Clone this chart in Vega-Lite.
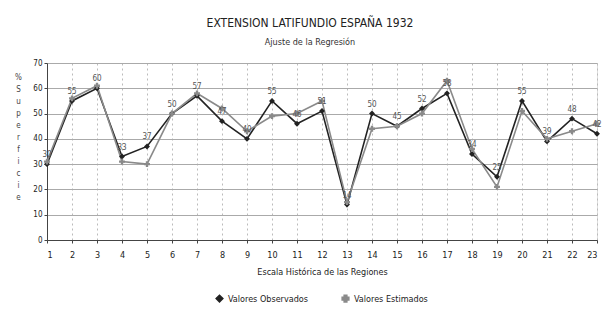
{
  "$schema": "https://vega.github.io/schema/vega-lite/v6.json",
  "width": 550,
  "height": 177,
  "autosize": {"type": "none"},
  "padding": {"left": 47, "top": 63, "right": 9, "bottom": 78},
  "background": "white",
  "config": {
    "legend": {
      "orient": "none",
      "legendX": 168,
      "legendY": 231,
      "direction": "horizontal",
      "labelFont": "Liberation Sans Narrow, DejaVu Sans Condensed, sans-serif",
      "labelFontSize": 9,
      "labelColor": "#222",
      "symbolSize": 45,
      "columnPadding": 30
    }
  },
  "title": {
    "text": "EXTENSION LATIFUNDIO ESPAÑA 1932",
    "subtitle": "Ajuste de la Regresión",
    "font": "Liberation Sans Narrow, DejaVu Sans Condensed, sans-serif",
    "subtitleFont": "Liberation Sans Narrow, DejaVu Sans Condensed, sans-serif",
    "fontSize": 12,
    "fontWeight": "normal",
    "subtitleFontSize": 9,
    "subtitlePadding": 8,
    "color": "#222",
    "subtitleColor": "#333",
    "anchor": "middle",
    "dx": -12,
    "offset": 11
  },
  "data": {
    "values": [
      {"region": 1, "serie": "Valores Observados", "valor": 30},
      {"region": 2, "serie": "Valores Observados", "valor": 55},
      {"region": 3, "serie": "Valores Observados", "valor": 60},
      {"region": 4, "serie": "Valores Observados", "valor": 33},
      {"region": 5, "serie": "Valores Observados", "valor": 37},
      {"region": 6, "serie": "Valores Observados", "valor": 50},
      {"region": 7, "serie": "Valores Observados", "valor": 57},
      {"region": 8, "serie": "Valores Observados", "valor": 47},
      {"region": 9, "serie": "Valores Observados", "valor": 40},
      {"region": 10, "serie": "Valores Observados", "valor": 55},
      {"region": 11, "serie": "Valores Observados", "valor": 46},
      {"region": 12, "serie": "Valores Observados", "valor": 51},
      {"region": 13, "serie": "Valores Observados", "valor": 14},
      {"region": 14, "serie": "Valores Observados", "valor": 50},
      {"region": 15, "serie": "Valores Observados", "valor": 45},
      {"region": 16, "serie": "Valores Observados", "valor": 52},
      {"region": 17, "serie": "Valores Observados", "valor": 58},
      {"region": 18, "serie": "Valores Observados", "valor": 34},
      {"region": 19, "serie": "Valores Observados", "valor": 25},
      {"region": 20, "serie": "Valores Observados", "valor": 55},
      {"region": 21, "serie": "Valores Observados", "valor": 39},
      {"region": 22, "serie": "Valores Observados", "valor": 48},
      {"region": 23, "serie": "Valores Observados", "valor": 42},
      {"region": 1, "serie": "Valores Estimados", "valor": 31},
      {"region": 2, "serie": "Valores Estimados", "valor": 56},
      {"region": 3, "serie": "Valores Estimados", "valor": 61},
      {"region": 4, "serie": "Valores Estimados", "valor": 31},
      {"region": 5, "serie": "Valores Estimados", "valor": 30},
      {"region": 6, "serie": "Valores Estimados", "valor": 50},
      {"region": 7, "serie": "Valores Estimados", "valor": 58},
      {"region": 8, "serie": "Valores Estimados", "valor": 52},
      {"region": 9, "serie": "Valores Estimados", "valor": 43},
      {"region": 10, "serie": "Valores Estimados", "valor": 49},
      {"region": 11, "serie": "Valores Estimados", "valor": 50},
      {"region": 12, "serie": "Valores Estimados", "valor": 55},
      {"region": 13, "serie": "Valores Estimados", "valor": 15},
      {"region": 14, "serie": "Valores Estimados", "valor": 44},
      {"region": 15, "serie": "Valores Estimados", "valor": 45},
      {"region": 16, "serie": "Valores Estimados", "valor": 50},
      {"region": 17, "serie": "Valores Estimados", "valor": 63},
      {"region": 18, "serie": "Valores Estimados", "valor": 36},
      {"region": 19, "serie": "Valores Estimados", "valor": 21},
      {"region": 20, "serie": "Valores Estimados", "valor": 51},
      {"region": 21, "serie": "Valores Estimados", "valor": 40},
      {"region": 22, "serie": "Valores Estimados", "valor": 43},
      {"region": 23, "serie": "Valores Estimados", "valor": 46}
    ]
  },
  "encoding": {
    "x": {
      "field": "region",
      "type": "quantitative",
      "scale": {"domain": [1, 23], "nice": false, "zero": false},
      "axis": {
        "title": "Escala Histórica de las Regiones",
        "values": [1,2,3,4,5,6,7,8,9,10,11,12,13,14,15,16,17,18,19,20,21,22,23],
        "format": "d",
        "labelFontSize": 9,
        "labelPadding": 7,
        "labelFont": "Liberation Sans Narrow, DejaVu Sans Condensed, sans-serif",
        "labelColor": "#222",
        "titleFont": "Liberation Sans Narrow, DejaVu Sans Condensed, sans-serif",
        "titleFontSize": 9,
        "titleFontWeight": "normal",
        "titleColor": "#222",
        "titlePadding": 8,
        "domainColor": "#444",
        "tickColor": "#444",
        "tickSize": 3,
        "grid": true,
        "gridDash": [2, 3],
        "gridColor": "#bbb"
      }
    },
    "y": {
      "field": "valor",
      "type": "quantitative",
      "scale": {"domain": [0, 70], "nice": false},
      "axis": {
        "title": ["%", "", "S", "u", "p", "e", "r", "f", "i", "c", "i", "e"],
        "titleAngle": 0,
        "titleX": -29,
        "titleY": 10,
        "titleAlign": "center",
        "titleBaseline": "top",
        "titleFontSize": 8,
        "titleLineHeight": 12,
        "titleFontWeight": "normal",
        "titleColor": "#444",
        "titleFont": "Liberation Sans Narrow, DejaVu Sans Condensed, sans-serif",
        "values": [0, 10, 20, 30, 40, 50, 60, 70],
        "labelFontSize": 8,
        "labelFont": "Liberation Sans Narrow, DejaVu Sans Condensed, sans-serif",
        "labelColor": "#222",
        "domainColor": "#444",
        "tickColor": "#444",
        "tickSize": 3,
        "grid": true,
        "gridColor": "#aaa"
      }
    },
    "color": {
      "field": "serie",
      "type": "nominal",
      "scale": {"domain": ["Valores Observados", "Valores Estimados"], "range": ["#222222", "#8a8a8a"]},
      "legend": {"title": null}
    }
  },
  "layer": [
    {
      "mark": {"type": "line", "strokeWidth": 1.6}
    },
    {
      "mark": {"type": "point", "filled": true, "size": 35, "opacity": 1},
      "encoding": {
        "shape": {
          "field": "serie",
          "type": "nominal",
          "scale": {"domain": ["Valores Observados", "Valores Estimados"], "range": ["diamond", "cross"]},
          "legend": {"title": null}
        }
      }
    },
    {
      "transform": [{"filter": "datum.serie === 'Valores Observados'"}],
      "mark": {"type": "text", "dy": -9, "fontSize": 8, "font": "Liberation Sans Narrow, DejaVu Sans Condensed, sans-serif"},
      "encoding": {
        "text": {"field": "valor", "type": "quantitative"},
        "color": {"value": "#555555"}
      }
    }
  ]
}
